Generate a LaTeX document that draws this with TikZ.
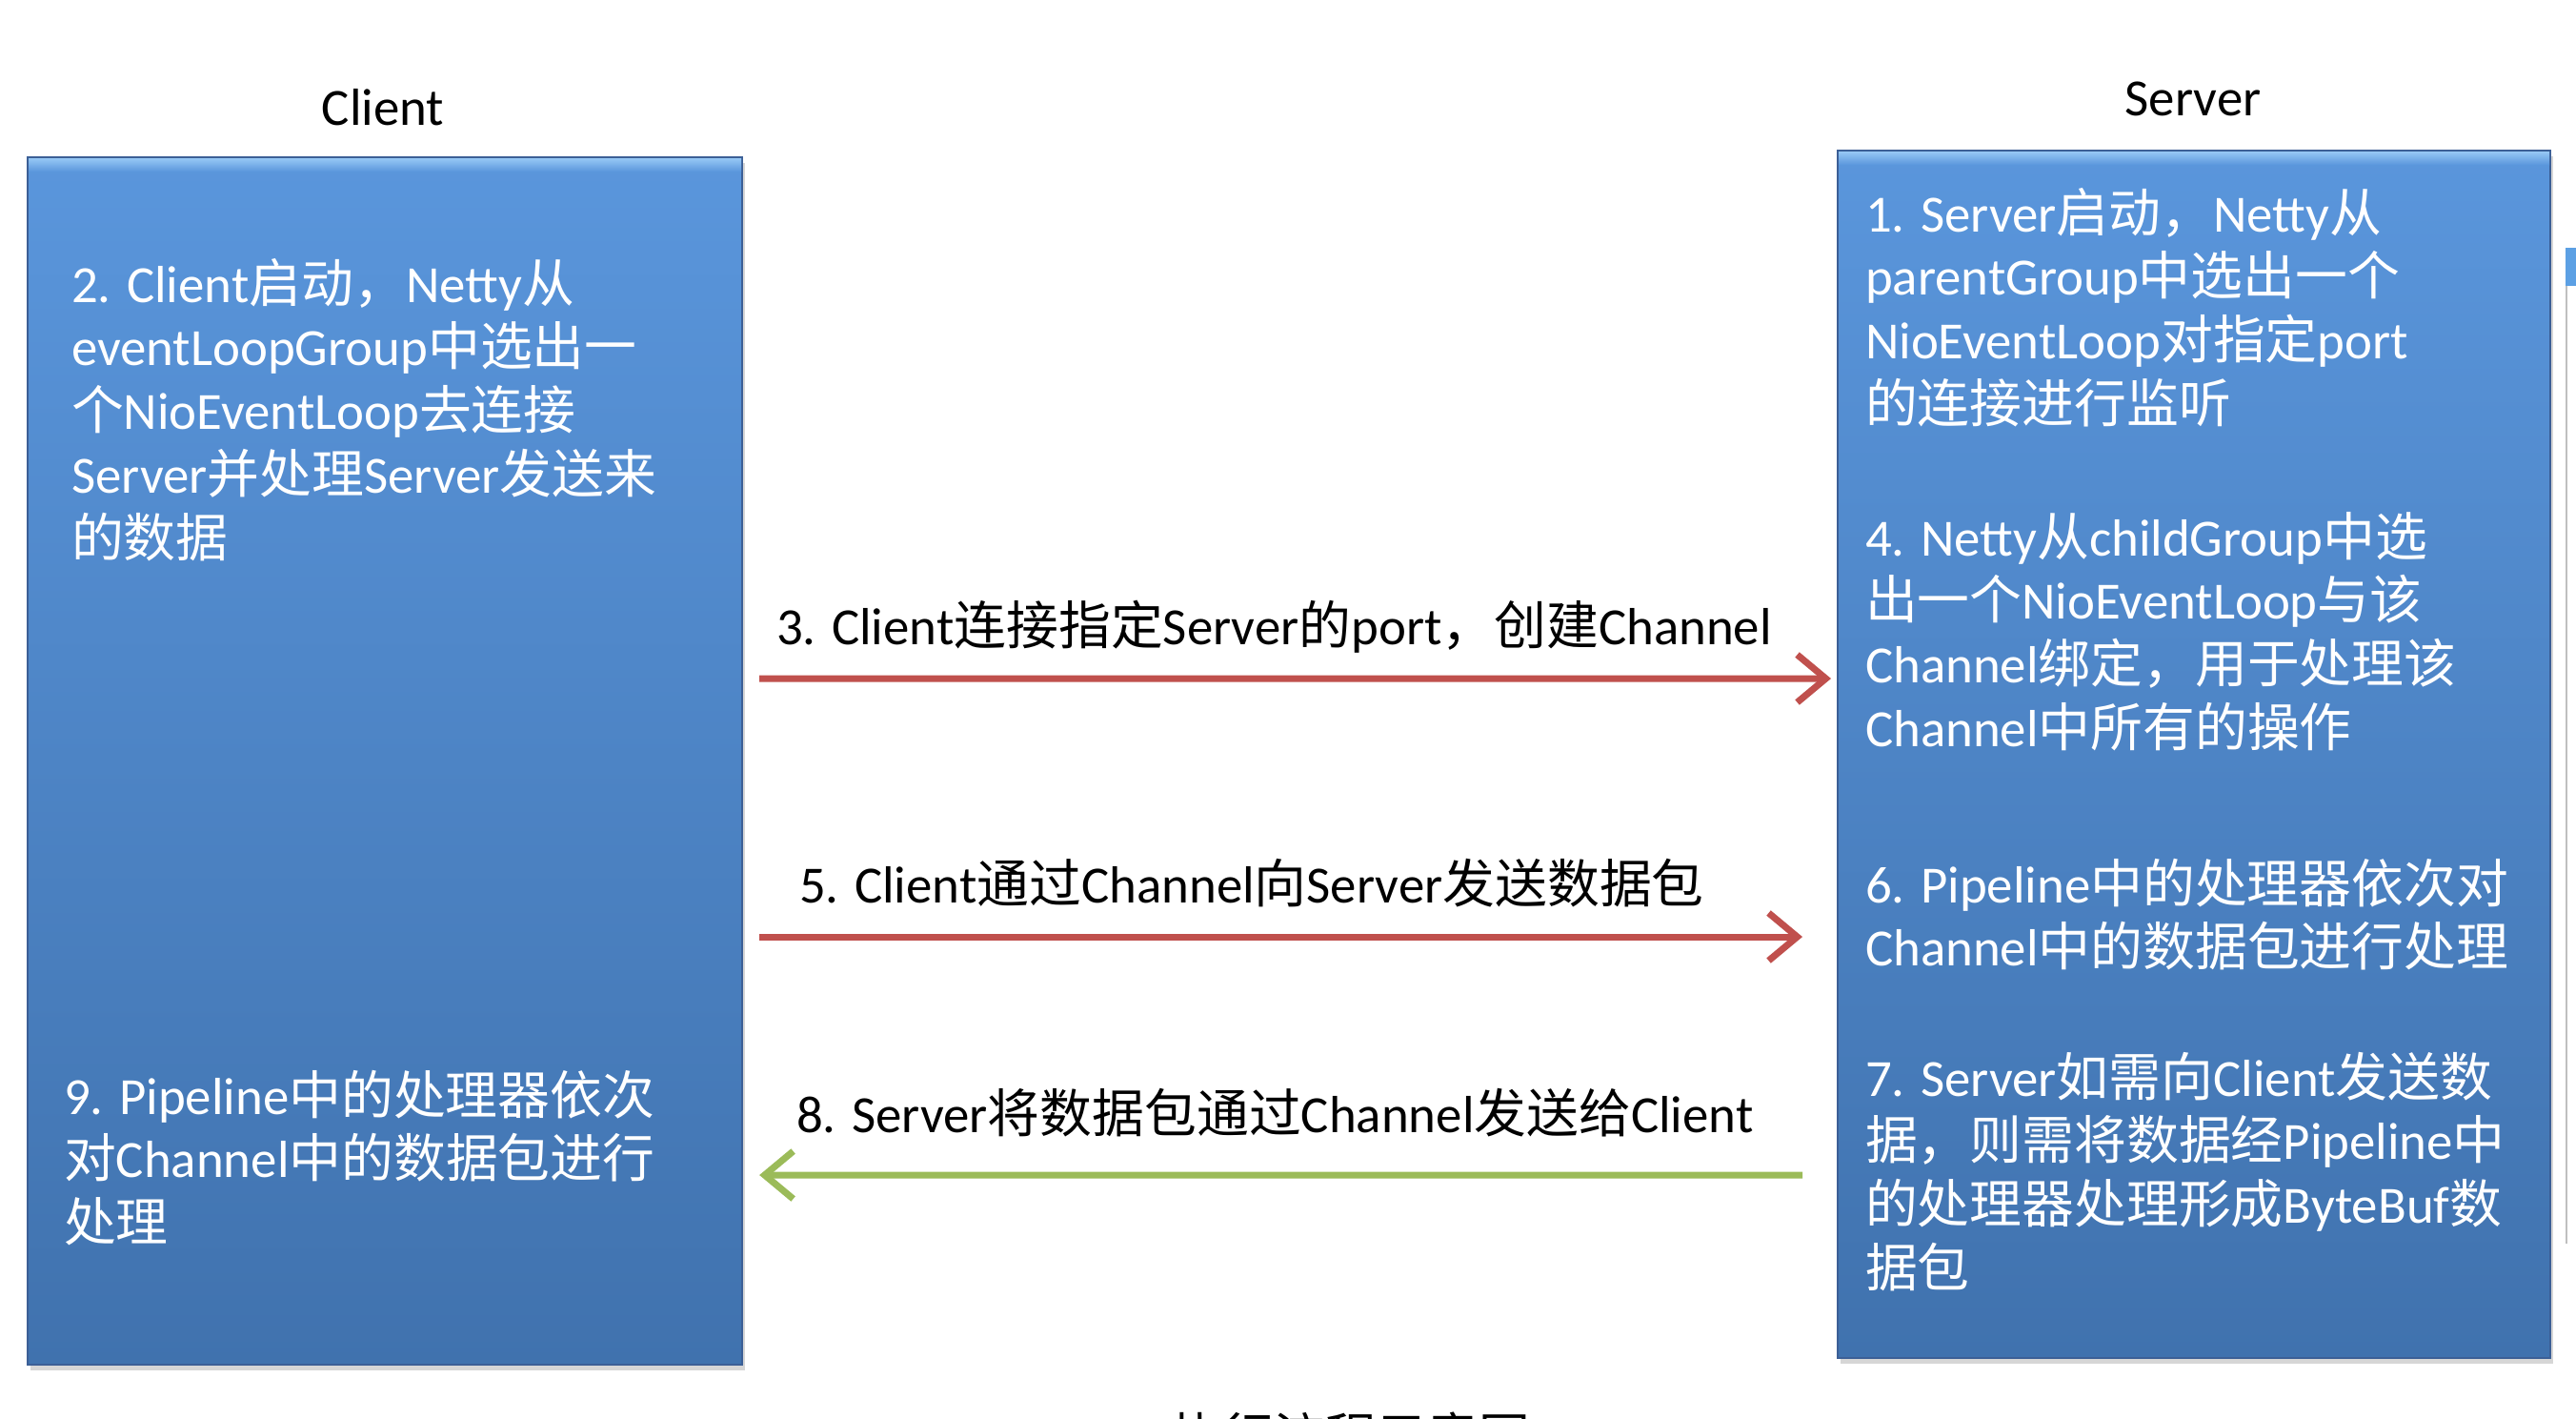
\documentclass[tikz,border=0pt]{standalone}
\usepackage{fontspec}
\setmainfont{Carlito}
\newfontfamily\cjk{Noto Sans CJK SC}
\usepackage{tikz}
\usetikzlibrary{arrows.meta,positioning,calc,shadows}
% Latin in Carlito, Chinese in Noto Sans CJK
\XeTeXinterchartokenstate=1
\newXeTeXintercharclass\cjkclass
\newcount\cjkcode
\cjkcode="4E00
\loop
  \XeTeXcharclass\cjkcode=\cjkclass
  \advance\cjkcode by 1
\ifnum\cjkcode<"A000 \repeat
\XeTeXcharclass"FF0C=\cjkclass
\XeTeXinterchartoks 0 \cjkclass = {\begingroup\cjk}
\XeTeXinterchartoks 4095 \cjkclass = {\begingroup\cjk}
\XeTeXinterchartoks \cjkclass 0 = {\endgroup}
\XeTeXinterchartoks \cjkclass 4095 = {\endgroup}
\definecolor{boxtop}{RGB}{90,150,220}
\definecolor{boxbottom}{RGB}{64,114,174}
\definecolor{boxedge}{RGB}{150,200,245}
\definecolor{boxline}{RGB}{60,95,150}
\definecolor{arrowred}{RGB}{192,80,77}
\definecolor{arrowgreen}{RGB}{155,187,89}
\definecolor{sideblue}{RGB}{92,160,228}
\newcommand{\txtsize}{\fontsize{15.6}{19}\selectfont}

\begin{document}
\begin{tikzpicture}[semithick,
    blockbox/.style={rectangle, draw=boxline, line width=0.6pt, top color=boxtop,
      bottom color=boxbottom, inner sep=0pt, anchor=north west,
      drop shadow={fill=black!45, opacity=0.35, shadow xshift=0.03cm, shadow yshift=-0.06cm}},
    boxtext/.style={text=white, anchor=base west, inner sep=0pt, font=\txtsize},
    headlabel/.style={anchor=base, inner sep=0pt, font=\txtsize},
    steplabel/.style={anchor=base west, inner sep=0pt, font=\txtsize},
    redarrow/.style={draw=arrowred, line width=2pt, -{Straight Barb[length=0.3cm, width=0.5cm]}},
    greenarrow/.style={draw=arrowgreen, line width=2pt, -{Straight Barb[length=0.3cm, width=0.5cm]}}]
    \useasboundingbox (0, 0) rectangle (27.04, -14.88);
    \clip (0, 0) rectangle (27.04, -14.88);
    \fill[white] (0, 0) rectangle (27.04, -14.88);
    % the two sides
    \node[blockbox, minimum width=7.50cm, minimum height=12.67cm] (client) at (0.28, -1.64) {};
    \node[blockbox, minimum width=7.48cm, minimum height=12.67cm] (server) at (19.28, -1.57) {};
    \fill[top color=boxedge, bottom color=boxtop] ([shift={(0.02,-0.02)}]client.north west) rectangle ([shift={(-0.02,-0.16)}]client.north east);
    \fill[top color=boxedge, bottom color=boxtop] ([shift={(0.02,-0.02)}]server.north west) rectangle ([shift={(-0.02,-0.16)}]server.north east);
    \node[headlabel] (clienthead) at (4.02, -1.31) {Client};
    \node[headlabel] (serverhead) at (23.02, -1.21) {Server};
    % client steps
    \node[boxtext] (c2) at (0.74, -3.17) {\begin{tabular}[t]{@{}l@{}} 2. Client启动，Netty从 \\ eventLoopGroup中选出一 \\ 个NioEventLoop去连接 \\ Server并处理Server发送来 \\ 的数据 \end{tabular}};
    \node[boxtext] (c9) at (0.66, -11.69) {\begin{tabular}[t]{@{}l@{}} 9. Pipeline中的处理器依次 \\ 对Channel中的数据包进行 \\ 处理 \end{tabular}};
    % server steps
    \node[boxtext] (s1) at (19.57, -2.43) {\begin{tabular}[t]{@{}l@{}} 1. Server启动，Netty从 \\ parentGroup中选出一个 \\ NioEventLoop对指定port \\ 的连接进行监听 \end{tabular}};
    \node[boxtext] (s4) at (19.57, -5.83) {\begin{tabular}[t]{@{}l@{}} 4. Netty从childGroup中选 \\ 出一个NioEventLoop与该 \\ Channel绑定，用于处理该 \\ Channel中所有的操作 \end{tabular}};
    \node[boxtext] (s6) at (19.57, -9.47) {\begin{tabular}[t]{@{}l@{}} 6. Pipeline中的处理器依次对 \\ Channel中的数据包进行处理 \end{tabular}};
    \node[boxtext] (s7) at (19.57, -11.50) {\begin{tabular}[t]{@{}l@{}} 7. Server如需向Client发送数 \\ 据，则需将数据经Pipeline中 \\ 的处理器处理形成ByteBuf数 \\ 据包 \end{tabular}};
    % messages between them
    \node[steplabel] (m3) at (8.14, -6.76) {3. Client连接指定Server的port，创建Channel};
    \node[steplabel] (m5) at (8.38, -9.47) {5. Client通过Channel向Server发送数据包};
    \node[steplabel] (m8) at (8.35, -11.88) {8. Server将数据包通过Channel发送给Client};
    \draw[redarrow] ($(client.north east)+(0.17,-5.48)$) -- ($(server.north west)+(-0.06,-5.55)$);
    \draw[redarrow] ($(client.north east)+(0.17,-8.19)$) -- ($(server.north west)+(-0.36,-8.26)$);
    \draw[greenarrow] ($(server.north west)+(-0.36,-10.76)$) -- ($(client.north east)+(0.17,-10.69)$);
    \node[anchor=base, inner sep=0pt, font=\fontsize{15.3}{18}\selectfont] (caption) at (14.18, -15.27) {执行流程示意图};
    % edge of the next window
    \fill[sideblue] (26.93, -2.60) rectangle (27.04, -3.00);
    \draw[black!25, line width=0.8pt] (26.94, -3.00) -- (26.94, -13.05);
\end{tikzpicture}
\end{document}
